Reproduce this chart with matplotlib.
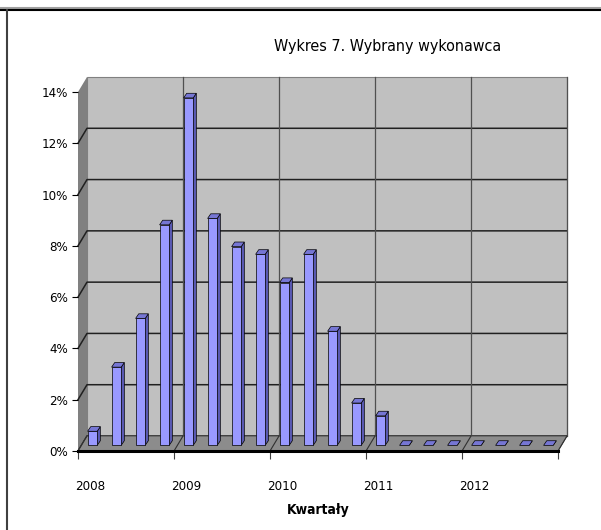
import numpy as np
import matplotlib.pyplot as plt
from matplotlib.patches import Polygon, Rectangle
from matplotlib.lines import Line2D

plt.rcParams['font.family'] = ['Liberation Sans Narrow', 'DejaVu Sans']
plt.rcParams['font.stretch'] = 'condensed'

# quarterly share (%), 2008 Q1 .. 2012 Q4
values = [0.55, 3.05, 4.95, 8.6, 13.55, 8.85, 7.75, 7.45, 6.35, 7.45,
          4.45, 1.65, 1.15, 0, 0, 0, 0, 0, 0, 0]
year_labels = ['2008', '2009', '2010', '2011', '2012']
y_ticks = [0, 2, 4, 6, 8, 10, 12, 14]
title = 'Wykres 7. Wybrany wykonawca'
xlabel = 'Kwartały'

n = len(values)
dx, dy = 0.375, 0.585          # depth of the 3d box (data units)
bw, bdx, bdy = 0.4, 0.13, 0.18  # bar width / bar depth
base = 0.22
c_front, c_side, c_top = '#9999ff', '#5a5ab4', '#7676d4'

fig = plt.figure(figsize=(6.01, 5.30), dpi=100)
W, H = 601, 530
ax = fig.add_axes([78 / W, (H - 451) / H, 480 / W, (451 - 92) / H])
ax.set_xlim(0, n)
ax.set_ylim(0, 14)
ax.patch.set_visible(False)

# walls and floor
ax.add_patch(Polygon([(dx, dy), (n + dx, dy), (n + dx, 14 + dy), (dx, 14 + dy)],
                     closed=True, fc='#c0c0c0', ec='#808080', lw=0.8, zorder=0, clip_on=False))
ax.add_patch(Polygon([(0, 0), (dx, dy), (dx, 14 + dy), (0, 14)],
                     closed=True, fc='#808080', ec='none', zorder=0, clip_on=False))
ax.add_patch(Polygon([(0, 0), (n, 0), (n + dx, dy), (dx, dy)],
                     closed=True, fc='#8c8c8c', ec='#404040', lw=0.6, zorder=2, clip_on=False))

# gridlines
for t in y_ticks[:-1]:
    ax.plot([0, dx, n + dx], [t, t + dy, t + dy], color='#202020', lw=1.1, zorder=1, clip_on=False)
for k in range(4, n + 1, 4):
    ax.plot([k + dx, k + dx], [dy, 14 + dy], color='#505050', lw=0.9, zorder=1, clip_on=False)
for k in range(0, n + 1, 4):
    ax.plot([k, k + dx], [0, dy], color='#303030', lw=0.8, zorder=2.5, clip_on=False)

# bars
for i, v in enumerate(values):
    x0 = i + 0.4
    y0 = base
    ax.add_patch(Polygon([(x0 + bw, y0), (x0 + bw + bdx, y0 + bdy), (x0 + bw + bdx, y0 + bdy + v), (x0 + bw, y0 + v)],
                         closed=True, fc=c_side, ec='black', lw=0.5, zorder=3, clip_on=False))
    if v > 0:
        ax.add_patch(Rectangle((x0, y0), bw, v, fc=c_front, ec='black', lw=0.5, zorder=3.2, clip_on=False))
    ax.add_patch(Polygon([(x0, y0 + v), (x0 + bw, y0 + v), (x0 + bw + bdx, y0 + v + bdy), (x0 + bdx, y0 + v + bdy)],
                         closed=True, fc=c_top, ec='black', lw=0.5, zorder=3.4, clip_on=False))

# axes / ticks
for s in ['top', 'right', 'left']:
    ax.spines[s].set_visible(False)
ax.spines['bottom'].set_color('black')
ax.spines['bottom'].set_linewidth(2.2)
ax.spines['bottom'].set_zorder(4)

ax.set_yticks(y_ticks)
ax.set_yticklabels([f'{t}%' for t in y_ticks], fontsize=9.5)
ax.tick_params(axis='y', direction='out', length=4, width=0.8, pad=3)

ax.set_xticks(range(0, n + 1, 4))
ax.set_xticklabels([])
ax.tick_params(axis='x', which='major', direction='out', length=6, width=0.8, color='#404040')
ax.set_xticks(np.arange(0, n, 4) + 0.5, minor=True)
ax.set_xticklabels(year_labels, minor=True, fontsize=9.5)
ax.tick_params(axis='x', which='minor', length=0, pad=21)

ax.set_xlabel(xlabel, fontsize=10, fontweight='bold', labelpad=7)

fig.text(388 / W, 1 - 47 / H, title, ha='center', va='center', fontsize=11.5)

# outer frame
fig.add_artist(Line2D([0, 1], [1 - 8 / H, 1 - 8 / H], color='#a0a0a0', lw=1.5))
fig.add_artist(Line2D([0, 1], [1 - 10 / H, 1 - 10 / H], color='black', lw=1.5))
fig.add_artist(Line2D([7 / W, 7 / W], [0, 1 - 10 / H], color='#404040', lw=1.5))

fig.savefig('out.png', dpi=100)
